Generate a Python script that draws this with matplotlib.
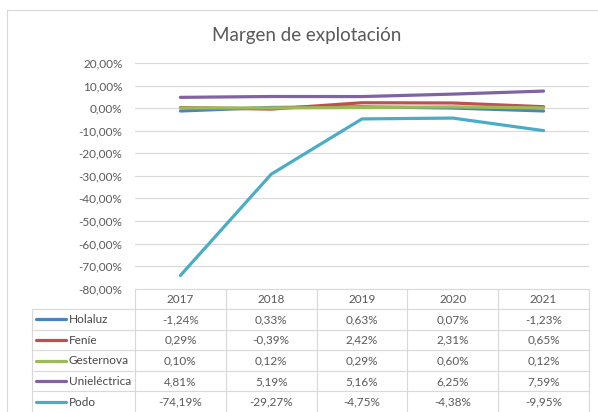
import matplotlib
matplotlib.use('Agg')
import matplotlib.pyplot as plt
from matplotlib.ticker import FuncFormatter

plt.rcParams['font.family'] = ['Lato', 'DejaVu Sans']

# data
years = ['2017', '2018', '2019', '2020', '2021']
companies = ['Holaluz', 'Feníe', 'Gesternova', 'Unieléctrica', 'Podo']
holaluz = [-1.24, 0.33, 0.63, 0.07, -1.23]
fenie = [0.29, -0.39, 2.42, 2.31, 0.65]
gesternova = [0.10, 0.12, 0.29, 0.60, 0.12]
unielectrica = [4.81, 5.19, 5.16, 6.25, 7.59]
podo = [-74.19, -29.27, -4.75, -4.38, -9.95]
series = [holaluz, fenie, gesternova, unielectrica, podo]
colors = ['#4F81BD', '#C0504D', '#9BBB59', '#8064A2', '#4BACC6']

grid_c = '#D9D9D9'
text_c = '#595959'
label_c = '#474747'

def pct(v):
    return f'{v:.2f}%'.replace('.', ',')

W, H = 598, 412
fig = plt.figure(figsize=(W / 100, H / 100), dpi=100)

# background layer in pixel coordinates (border + data table)
bg = fig.add_axes([0, 0, 1, 1])
bg.set_xlim(0, W)
bg.set_ylim(H, 0)
bg.axis('off')
bg.plot([7, 7, W], [H, 9.5, 9.5], color=grid_c, lw=0.8)

# plot area
top_px, bot_px, left_px, right_px = 63.1, 288.6, 135, 589
ax = fig.add_axes([left_px / W, 1 - bot_px / H, (right_px - left_px) / W, (bot_px - top_px) / H])
ax.patch.set_alpha(0)
x = range(len(years))
for s, c in zip(series, colors):
    ax.plot(x, s, color=c, lw=2.3, solid_capstyle='round', solid_joinstyle='round', zorder=3)
ax.set_xlim(-0.5, len(years) - 0.5)
ax.set_ylim(-80, 20)
ax.set_yticks(range(-80, 21, 10))
ax.yaxis.set_major_formatter(FuncFormatter(lambda v, p: pct(v)))
ax.tick_params(axis='y', length=0, pad=9, labelsize=8.5, labelcolor=text_c)
ax.set_xticks([])
ax.grid(axis='y', color=grid_c, lw=0.8)
ax.set_axisbelow(True)
for sp in ax.spines.values():
    sp.set_visible(False)

fig.text(307 / W, 1 - 35 / H, 'Margen de explotación', ha='center', va='center',
         fontsize=13.5, color=text_c)

# data table
col_w = (right_px - left_px) / len(years)
col_edges = [left_px + i * col_w for i in range(len(years) + 1)]
label_left = 32
row_edges = [288.6, 309, 329.6, 350.2, 370.8, 391.4, 412]
bg.plot([left_px, right_px], [row_edges[0]] * 2, color=grid_c, lw=0.8)
for yy in row_edges[1:-1]:
    bg.plot([label_left, right_px], [yy, yy], color=grid_c, lw=0.8)
for xx in col_edges:
    bg.plot([xx, xx], [row_edges[0], H], color=grid_c, lw=0.8)
bg.plot([label_left, label_left], [row_edges[1], H], color=grid_c, lw=0.8)

for j, yr in enumerate(years):
    bg.text((col_edges[j] + col_edges[j + 1]) / 2, (row_edges[0] + row_edges[1]) / 2 + 0.5, yr,
            ha='center', va='center', fontsize=8.5, color=text_c)
for i, (name, s, c) in enumerate(zip(companies, series, colors)):
    yc = (row_edges[i + 1] + row_edges[i + 2]) / 2
    bg.plot([36, 66], [yc, yc], color=c, lw=2.3, solid_capstyle='round')
    bg.text(68.5, yc + 0.5, name, ha='left', va='center', fontsize=8.5, color=label_c)
    for j, v in enumerate(s):
        bg.text((col_edges[j] + col_edges[j + 1]) / 2, yc + 0.5, pct(v),
                ha='center', va='center', fontsize=8.5, color=text_c)

fig.savefig('out.png', dpi=100)
